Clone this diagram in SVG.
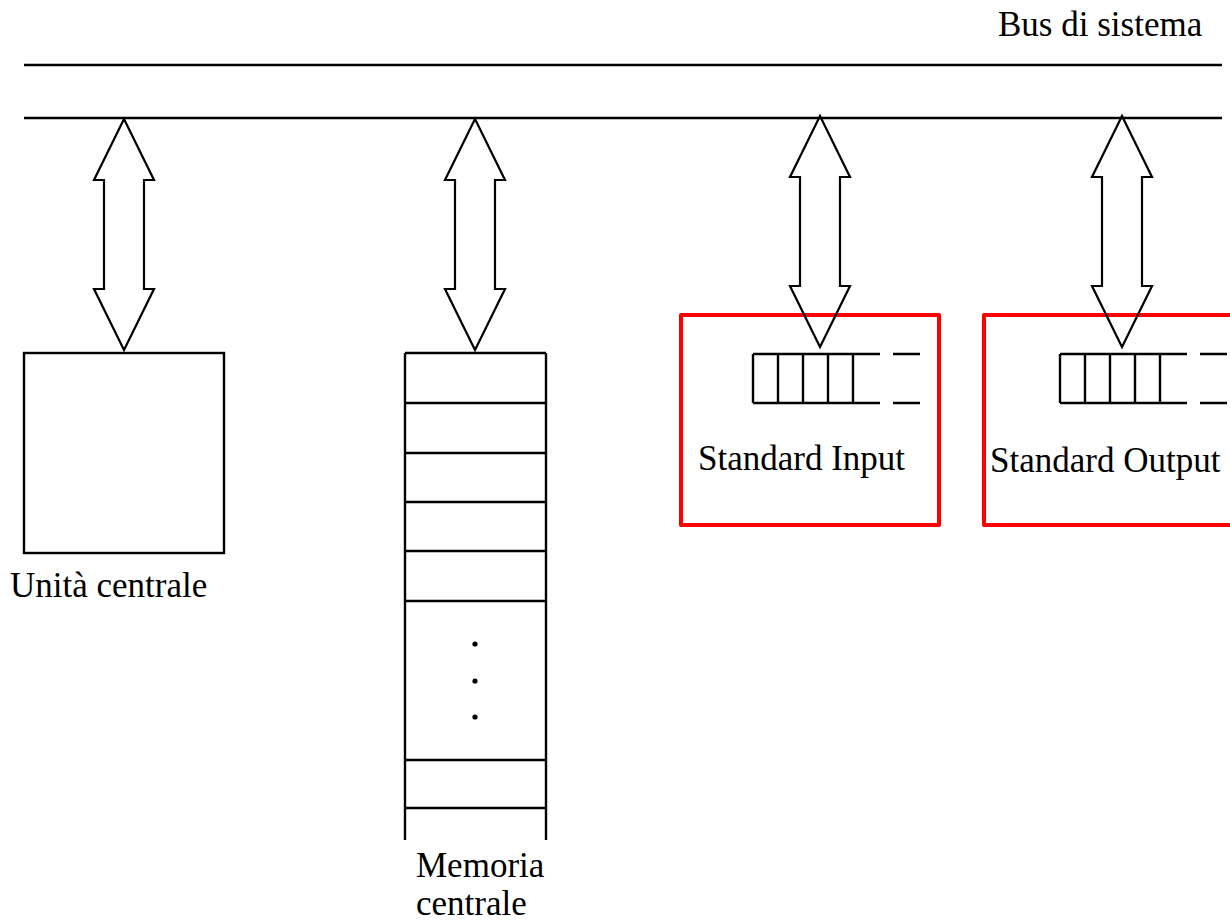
<svg xmlns="http://www.w3.org/2000/svg" width="1230" height="922" viewBox="0 0 1230 922">
  <style>
    .ln { stroke: #000; stroke-width: 2.4; fill: none; }
    .box { stroke: #000; stroke-width: 2.4; fill: #fff; }
    .dev { stroke: #f00; stroke-width: 4; fill: none; stroke-linejoin: round; }
    .lbl { font-size: 35px; fill: #000; }
    .arrow { stroke: #000; stroke-width: 2.2; fill: none; stroke-linejoin: miter; }
  </style>
  <defs>
    <!-- double-headed block arrow, 231 px tall, tip at origin -->
    <path id="dblArrow" d="M0,0 L30,61 L20,61 L20,170 L30,170 L0,231 L-30,170 L-20,170 L-20,61 L-30,61 Z"/>
    <!-- FIFO buffer: five cells and an open tail -->
    <g id="fifo">
      <path d="M0,0 H127 M0,49 H127 M0,0 V49 M25,0 V49 M50,0 V49 M75,0 V49 M100,0 V49 M140,0 H167 M140,49 H167"/>
    </g>
  </defs>

  <rect width="1230" height="922" fill="#fff"/>

  <g font-family="'Liberation Serif', 'Times New Roman', Times, 'DejaVu Serif', serif">
    <!-- system bus -->
    <g id="bus">
      <line class="ln" x1="24" y1="65" x2="1222" y2="65"/>
      <line class="ln" x1="24" y1="118" x2="1222" y2="118"/>
      <text class="lbl" x="998" y="36">Bus di sistema</text>
    </g>

    <!-- central processing unit -->
    <g id="cpu">
      <rect class="box" x="24" y="353" width="200" height="200"/>
      <text class="lbl" x="10" y="597">Unità centrale</text>
    </g>

    <!-- main memory as a stack of words -->
    <g id="memory">
      <path class="ln" d="M405,353 V840 M546,353 V840 M405,353 H546 M405,403 H546 M405,453 H546 M405,502 H546 M405,551 H546 M405,601 H546 M405,760 H546 M405,808 H546"/>
      <circle cx="475" cy="644" r="2.6" fill="#000"/>
      <circle cx="475" cy="681" r="2.6" fill="#000"/>
      <circle cx="475" cy="717" r="2.6" fill="#000"/>
      <text class="lbl" x="416" y="877">Memoria</text>
      <text class="lbl" x="416" y="915">centrale</text>
    </g>

    <!-- input device -->
    <g id="stdin">
      <rect class="dev" x="681" y="315" width="258" height="210"/>
      <use href="#fifo" class="ln" x="753" y="354"/>
      <text class="lbl" x="698" y="470">Standard Input</text>
    </g>

    <!-- output device -->
    <g id="stdout">
      <rect class="dev" x="984" y="315" width="260" height="210"/>
      <use href="#fifo" class="ln" x="1060" y="354"/>
      <text class="lbl" x="990" y="472">Standard Output</text>
    </g>
  </g>

  <!-- bus connections -->
  <g id="connectors">
    <use href="#dblArrow" class="arrow" x="124" y="119"/>
    <use href="#dblArrow" class="arrow" x="475" y="119"/>
    <use href="#dblArrow" class="arrow" x="820" y="116"/>
    <use href="#dblArrow" class="arrow" x="1122" y="116"/>
  </g>
</svg>
